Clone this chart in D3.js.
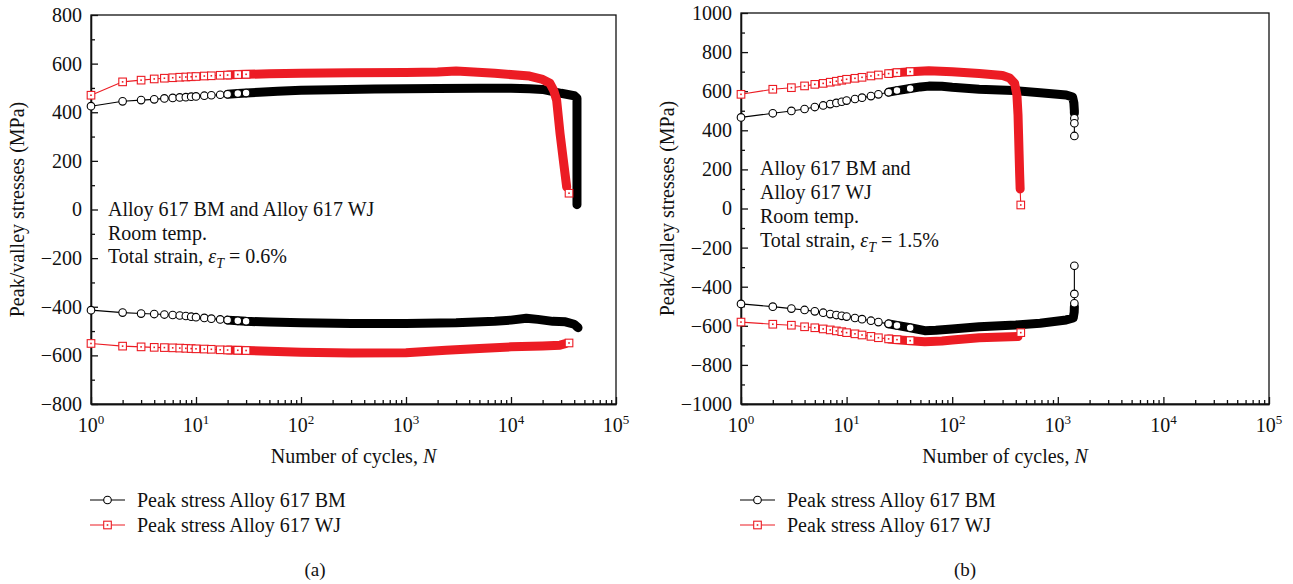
<!DOCTYPE html>
<html>
<head>
<meta charset="utf-8">
<script src="https://cdn.jsdelivr.net/npm/d3@7"></script>
<style>
  html, body { margin: 0; padding: 0; background: #fff; }
  svg text { font-family: "Liberation Serif", "Times New Roman", serif; fill: #111; }
</style>
</head>
<body>
<svg id="fig" width="1293" height="584"></svg>
<script>
// ---- Panel (a): total strain 0.6 %  ([cycle N, stress MPa]) ----
const bmPeakA = [[1,425],[2,445],[3,450],[4,453],[5,457],[6,459],[7,461],[8,462],[9,464],[10,465],
  [12,468],[14,470],[17,472],[20,474],[25,477],[30,479],[40,482],[60,486],[100,490],[200,493],
  [500,496],[1000,497],[2000,498],[5000,499],[10000,499],[15000,497],[20000,494],[30000,478],
  [40000,468],[42500,458],[42500,300],[42500,150],[42500,20]];
const bmValleyA = [[1,-414],[2,-424],[3,-428],[4,-430],[5,-432],[6,-434],[7,-436],[8,-438],[9,-441],[10,-443],
  [12,-446],[14,-449],[17,-452],[20,-455],[25,-458],[30,-460],[50,-463],[100,-466],[300,-469],[1000,-469],
  [3000,-466],[7000,-460],[10000,-455],[14000,-447],[18000,-452],[25000,-460],[33000,-462],[40000,-472],[43500,-486]];
const wjPeakA = [[1,470],[2,525],[3,532],[4,537],[5,540],[6,542],[7,544],[8,545],[9,546],[10,547],
  [12,549],[14,550],[17,552],[20,553],[25,555],[30,556],[50,558],[100,560],[300,562],[1000,563],
  [2000,566],[3000,570],[4000,567],[7000,560],[15000,549],[20000,535],[23500,519],[25500,490],
  [27200,450],[29300,313],[31500,203],[33900,93],[35700,67]];
const wjValleyA = [[1,-551],[2,-562],[3,-565],[4,-567],[5,-568],[6,-569],[7,-570],[8,-571],[9,-572],[10,-573],
  [12,-574],[14,-575],[17,-577],[20,-578],[25,-579],[30,-580],[50,-583],[100,-587],[300,-590],[1000,-589],
  [2400,-579],[5000,-572],[10000,-565],[20000,-561],[29300,-558],[33000,-552],[35700,-549]];

// ---- Panel (b): total strain 1.5 % ----
const bmPeakB = [[1,466],[2,487],[3,499],[4,509],[5,519],[6,527],[7,534],[8,540],[9,546],[10,552],
  [12,560],[14,567],[17,575],[20,584],[25,595],[30,603],[40,614],[50,622],[60,626],[80,625],
  [100,620],[180,610],[380,603],[680,592],[1200,581],[1380,570],[1420,540],[1435,500],
  [1435,487],[1435,461],[1435,436],[1435,371]];
const bmValleyB = [[1,-488],[2,-502],[3,-512],[4,-519],[5,-526],[6,-533],[7,-540],[8,-545],[9,-549],[10,-553],
  [12,-560],[14,-566],[17,-574],[20,-581],[25,-590],[30,-598],[40,-610],[55,-625],[70,-623],[100,-616],
  [180,-605],[400,-596],[680,-587],[1200,-570],[1400,-560],[1430,-530],[1435,-502],
  [1435,-485],[1435,-437],[1435,-293]];
const wjPeakB = [[1,584],[2,610],[3,618],[4,627],[5,635],[6,640],[7,646],[8,651],[9,656],[10,661],
  [12,666],[14,671],[17,678],[20,683],[25,690],[30,695],[40,700],[60,705],[100,700],[180,690],
  [300,680],[350,668],[390,640],[410,580],[420,480],[425,380],[430,280],[435,180],[440,100],[446,18]];
const wjValleyB = [[1,-581],[2,-592],[3,-597],[4,-605],[5,-610],[6,-616],[7,-621],[8,-626],[9,-630],[10,-635],
  [12,-641],[14,-647],[17,-654],[20,-661],[25,-667],[30,-671],[40,-676],[55,-681],[80,-678],[100,-673],
  [180,-661],[300,-657],[420,-655],[446,-635]];

// axis ticks and labels
const decades = [0, 1, 2, 3, 4, 5];
const yTicksA = [-800, -600, -400, -200, 0, 200, 400, 600, 800];
const yTicksB = [-1000, -800, -600, -400, -200, 0, 200, 400, 600, 800, 1000];
const legendLabels = ["Peak stress Alloy 617 BM", "Peak stress Alloy 617 WJ"];
const xTitle = "Number of cycles, ";
const yTitle = "Peak/valley stresses (MPa)";

const RED = "#ec1c24", BLACK = "#000";
const svg = d3.select("#fig");

const panels = [
  { caption: "(a)", left: 91, right: 616, top: 15, bottom: 404, yTicks: yTicksA,
    series: [
      { data: bmPeakA, kind: "bm", tail: 0 }, { data: bmValleyA, kind: "bm", tail: 0 },
      { data: wjPeakA, kind: "wj", tail: 1 }, { data: wjValleyA, kind: "wj", tail: 1 } ],
    bandStart: 20, markerMax: 30,
    note: ["Alloy 617 BM and Alloy 617 WJ", "Room temp."], strain: "0.6%",
    noteX: 108, noteY0: 216, noteDy: 23.5, legendX: 90, captionX: 315 },
  { caption: "(b)", left: 741, right: 1269, top: 13, bottom: 404, yTicks: yTicksB,
    series: [
      { data: bmPeakB, kind: "bm", tail: 3 }, { data: bmValleyB, kind: "bm", tail: 3 },
      { data: wjPeakB, kind: "wj", tail: 1 }, { data: wjValleyB, kind: "wj", tail: 1 } ],
    bandStart: 25, markerMax: 40,
    note: ["Alloy 617 BM and", "Alloy 617 WJ", "Room temp."], strain: "1.5%",
    noteX: 760, noteY0: 175, noteDy: 24, legendX: 740, captionX: 965 }
];

const fmt = v => v < 0 ? "\u2212" + Math.abs(v) : String(v);

function drawMarker(g, px, py, kind, color) {
  if (kind === "bm") {
    g.append("circle").attr("cx", px).attr("cy", py).attr("r", 3.8)
      .attr("fill", "#fff").attr("stroke", color).attr("stroke-width", 1.1);
  } else {
    g.append("rect").attr("x", px - 3.8).attr("y", py - 3.8).attr("width", 7.6).attr("height", 7.6)
      .attr("fill", "#fff").attr("stroke", color).attr("stroke-width", 1.1);
    g.append("rect").attr("x", px - 0.8).attr("y", py - 0.8).attr("width", 1.6).attr("height", 1.6)
      .attr("fill", color);
  }
}

function drawSeries(g, x, y, s, p) {
  const color = s.kind === "bm" ? BLACK : RED;
  const line = d3.line().x(d => x(d[0])).y(d => y(d[1]));
  const n = s.data.length;
  // dense region: overlapping markers merge into a solid band
  const band = s.data.filter((d, i) => d[0] >= p.bandStart && i < n - s.tail);
  g.append("path").attr("d", line(band)).attr("fill", "none").attr("stroke", color)
    .attr("stroke-width", 9).attr("stroke-linejoin", "round").attr("stroke-linecap", "round");
  g.append("path").attr("d", line(s.data)).attr("fill", "none").attr("stroke", color)
    .attr("stroke-width", 1.1);
  s.data.forEach((d, i) => {
    if (d[0] <= p.markerMax || i >= n - s.tail) drawMarker(g, x(d[0]), y(d[1]), s.kind, color);
  });
}

panels.forEach(p => {
  const x = d3.scaleLog().domain([1, 1e5]).range([p.left, p.right]);
  const y = d3.scaleLinear().domain([p.yTicks[0], p.yTicks[p.yTicks.length - 1]]).range([p.bottom, p.top]);
  const g = svg.append("g");

  // minor ticks
  const xMinor = [];
  decades.slice(0, 5).forEach(k => { for (let m = 2; m <= 9; m++) xMinor.push(m * Math.pow(10, k)); });
  const yMinor = p.yTicks.slice(0, -1).map(v => v + 100);

  const xAxisMinor = d3.axisBottom(x).tickValues(xMinor).tickSizeInner(-4).tickSizeOuter(0).tickFormat("");
  const xAxis = d3.axisBottom(x).tickValues(decades.map(k => Math.pow(10, k))).tickSizeInner(-7).tickSizeOuter(0).tickFormat("");
  const yAxisMinor = d3.axisLeft(y).tickValues(yMinor).tickSizeInner(-4).tickSizeOuter(0).tickFormat("");
  const yAxis = d3.axisLeft(y).tickValues(p.yTicks).tickSizeInner(-7).tickSizeOuter(0).tickPadding(9).tickFormat(fmt);

  [xAxisMinor, xAxis].forEach(a => g.append("g").attr("transform", `translate(0,${p.bottom})`).call(a));
  [yAxisMinor, yAxis].forEach(a => g.append("g").attr("transform", `translate(${p.left},0)`).call(a));
  g.selectAll(".tick line, .domain").attr("stroke", "#111").attr("stroke-width", 1.3);
  g.selectAll(".tick text").attr("font-size", 20).attr("font-family", "Liberation Serif").attr("fill", "#111");

  // decade labels 10^k
  decades.forEach(k => {
    const t = g.append("text").attr("x", x(Math.pow(10, k))).attr("y", p.bottom + 28)
      .attr("text-anchor", "middle").attr("font-size", 20);
    t.append("tspan").text("10");
    t.append("tspan").attr("dy", -8).attr("font-size", 13).text(k);
  });

  // frame
  g.append("rect").attr("x", p.left).attr("y", p.top).attr("width", p.right - p.left)
    .attr("height", p.bottom - p.top).attr("fill", "none").attr("stroke", "#111").attr("stroke-width", 1.3);

  // data: black series below red
  const marks = g.append("g");
  p.series.forEach(s => drawSeries(marks, x, y, s, p));

  // axis titles
  const xt = g.append("text").attr("x", (p.left + p.right) / 2).attr("y", 463)
    .attr("text-anchor", "middle").attr("font-size", 20);
  xt.append("tspan").text(xTitle);
  xt.append("tspan").attr("font-style", "italic").text("N");

  g.append("text").attr("transform", `translate(${p.left - 67},${(p.top + p.bottom) / 2}) rotate(-90)`)
    .attr("text-anchor", "middle").attr("font-size", 20).text(yTitle);

  // annotation
  p.note.forEach((t, i) => {
    g.append("text").attr("x", p.noteX).attr("y", p.noteY0 + i * p.noteDy).attr("font-size", 20).text(t);
  });
  const st = g.append("text").attr("x", p.noteX).attr("y", p.noteY0 + p.note.length * p.noteDy).attr("font-size", 20);
  st.append("tspan").text("Total strain, ");
  st.append("tspan").attr("font-style", "italic").text("\u03b5");
  st.append("tspan").attr("font-style", "italic").attr("font-size", 14).attr("dy", 5).text("T");
  st.append("tspan").attr("dy", -5).text(" = " + p.strain);

  // legend
  legendLabels.forEach((lab, i) => {
    const ly = 500 + i * 25;
    const kind = i === 0 ? "bm" : "wj";
    const color = i === 0 ? BLACK : RED;
    g.append("line").attr("x1", p.legendX).attr("x2", p.legendX + 35).attr("y1", ly).attr("y2", ly)
      .attr("stroke", color).attr("stroke-width", 1.2);
    drawMarker(g, p.legendX + 17.5, ly, kind, color);
    g.append("text").attr("x", p.legendX + 47).attr("y", ly + 7).attr("font-size", 20).text(lab);
  });

  g.append("text").attr("x", p.captionX).attr("y", 576).attr("text-anchor", "middle")
    .attr("font-size", 19).text(p.caption);
});
</script>
</body>
</html>
